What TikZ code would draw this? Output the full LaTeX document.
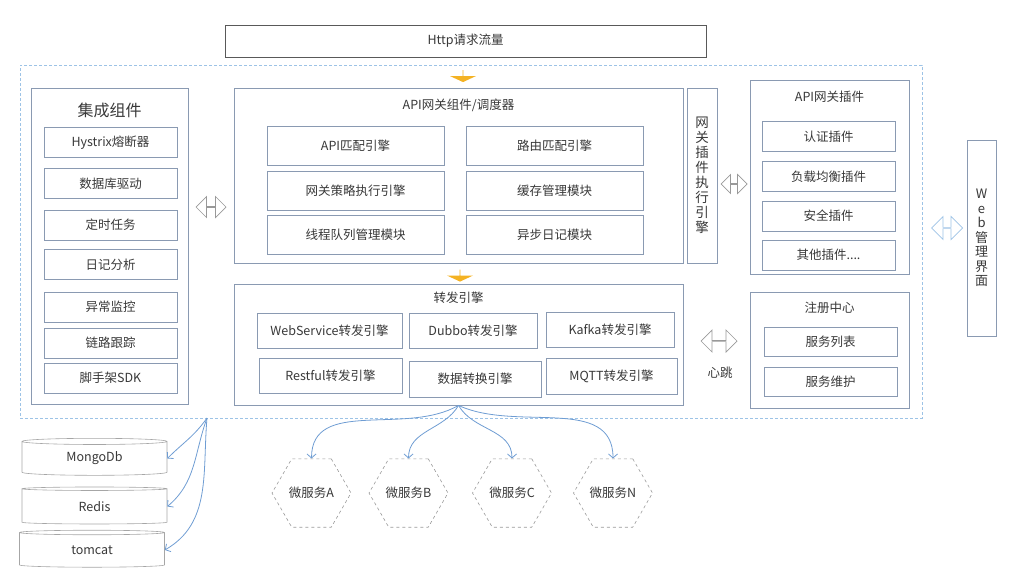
\documentclass[tikz,border=0pt]{standalone}
\usepackage{fontspec}
\setmainfont{Noto Sans CJK SC}
\usepackage{xcolor}
\usetikzlibrary{arrows.meta,shapes.geometric,shapes.arrows}
\definecolor{boxline}{HTML}{8A9AB2}
\definecolor{txt}{HTML}{383838}
\definecolor{flowblue}{HTML}{6F9DD3}
\definecolor{framedash}{HTML}{9DC3E6}
\definecolor{arrowgold}{HTML}{F4B223}

\begin{document}
\begin{tikzpicture}[x=1pt, y=1pt, >={Straight Barb[length=4pt,width=9pt]},
        every node/.style={text=txt, font=\fontsize{12.5}{15}\selectfont, inner sep=0pt},
        panel/.style 2 args={draw=boxline, line width=0.8pt, minimum width=#1, minimum height=#2},
        item/.style 2 args={draw=boxline, line width=0.7pt, minimum width=#1, minimum height=#2},
        strip/.style 2 args={draw=boxline, line width=0.8pt, minimum width=#1, minimum height=#2, align=center},
        dbase/.style={cylinder, shape border rotate=90, draw=gray!70, line width=0.6pt, aspect=0.11, minimum width=145, minimum height=37},
        svc/.style={regular polygon, regular polygon sides=6, draw=gray!80, dashed, line width=0.6pt, minimum size=79},
        dblarrow/.style={double arrow, draw=#1, fill=white, line width=0.7pt, double arrow head extend=6pt},
        goldarrow/.style={single arrow, fill=arrowgold, shape border rotate=270, minimum height=12, minimum width=26, single arrow head extend=6pt, single arrow tip angle=130},
        flow/.style={draw=flowblue, line width=0.8pt}]
        \useasboundingbox (0,0) rectangle (1024,-584);

        \node[draw=black!65, line width=0.8pt, minimum width=481, minimum height=32] (http) at (465.5,-41) {Http请求流量};
        \node[draw=framedash, dash pattern=on 3pt off 2pt, line width=0.8pt, minimum width=902, minimum height=353] (frame) at (471,-241.5) {};
        \coordinate (store) at (207,-418);

        \node[panel={157}{316}] (kit) at (109.5,-246.5) {};
        \node[font=\fontsize{16}{18}\selectfont] (kittitle) at (109.5,-110) {集成组件};
        \foreach \y/\t [count=\i] in {142.5/Hystrix熔断器, 183.5/数据库驱动, 225/定时任务, 264.5/日记分析, 307/异常监控, 343/链路跟踪, 378/脚手架SDK}{
            \node[item={133}{30}] (kit\i) at (110.5,-\y) {\t};
        }

        \node[goldarrow] (in1) at (463,-76) {};
        \node[panel={449}{175}] (api) at (458.5,-175.5) {};
        \node (apititle) at (458.5,-105) {API网关组件/调度器};
        \node[item={177}{39}] (api1) at (355.5,-145.5) {API匹配引擎};
        \node[item={177}{39}] (api2) at (554.5,-145.5) {路由匹配引擎};
        \node[item={177}{39}] (api3) at (355.5,-190.5) {网关策略执行引擎};
        \node[item={177}{39}] (api4) at (554.5,-190.5) {缓存管理模块};
        \node[item={177}{39}] (api5) at (355.5,-234.5) {线程队列管理模块};
        \node[item={177}{39}] (api6) at (554.5,-234.5) {异步日记模块};
        \node[strip={30}{175}, font=\fontsize{13.5}{15}\selectfont] (engine) at (702,-175.5) {网\\关\\插\\件\\执\\行\\引\\擎};

        \node[goldarrow] (in2) at (460,-275.5) {};
        \node[panel={449}{121}] (fwd) at (458.5,-344.5) {};
        \node (fwdtitle) at (458.5,-298) {转发引擎};
        \node[item={145}{35}] (fwd1) at (329.5,-330.5) {WebService转发引擎};
        \node[item={128}{35}] (fwd2) at (473,-330.5) {Dubbo转发引擎};
        \node[item={128}{35}] (fwd3) at (610,-329.5) {Kafka转发引擎};
        \node[item={143}{35}] (fwd4) at (330.5,-375.5) {Restful转发引擎};
        \node[item={132}{36}] (fwd5) at (475,-379) {数据转换引擎};
        \node[item={131}{36}] (fwd6) at (611.5,-376) {MQTT转发引擎};

        \node[panel={159}{194}] (plug) at (829.5,-177) {};
        \node (plugtitle) at (829.5,-97) {API网关插件};
        \foreach \y/\t [count=\i] in {136.5/认证插件, 176.5/负载均衡插件, 216/安全插件, 255/{其他插件....}}{
            \node[item={133}{30}] (plug\i) at (828.5,-\y) {\t};
        }

        \node[panel={159}{116}] (reg) at (829.5,-350) {};
        \node (regtitle) at (829.5,-308) {注册中心};
        \node[item={133}{29}] (reg1) at (830.5,-341.5) {服务列表};
        \node[item={133}{29}] (reg2) at (830.5,-381.5) {服务维护};

        \node[strip={29}{196}, font=\fontsize{13}{14.5}\selectfont] (web) at (981.5,-238) {W\\e\\b\\管\\理\\界\\面};

        \node[dblarrow=gray!80, minimum height=30, minimum width=21] (link1) at (211,-207) {};
        \node[dblarrow=gray!80, minimum height=26, minimum width=19] (link2) at (734,-184) {};
        \node[dblarrow=gray!80, minimum height=36, minimum width=22] (link3) at (719,-341) {};
        \node[dblarrow=framedash, minimum height=31, minimum width=23] (link4) at (947,-228) {};
        \node (beat) at (720,-373) {心跳};

        \node[dbase] (mongo) at (94.5,-458.5) {MongoDb};
        \node[dbase] (redis) at (94.5,-506.5) {Redis};
        \node[dbase] (tomcat) at (92,-550) {tomcat};
        \draw[flow,->] (store) to[out=235, in=45] (mongo.0);
        \draw[flow,->] (store) to[out=250, in=40] (redis.0);
        \draw[flow,->] (store) to[out=265, in=30] (tomcat.0);

        \foreach \x/\t in {311.5/A, 408.5/B, 512/C, 613/N}{
            \node[svc] (svc\t) at (\x,-493) {微服务\t};
        }
        \foreach \t/\a in {A/210, B/240, C/300, N/335}{
            \draw[flow,->] (fwd.south) to[out=\a, in=90] (svc\t.north);
        }
\end{tikzpicture}
\end{document}
